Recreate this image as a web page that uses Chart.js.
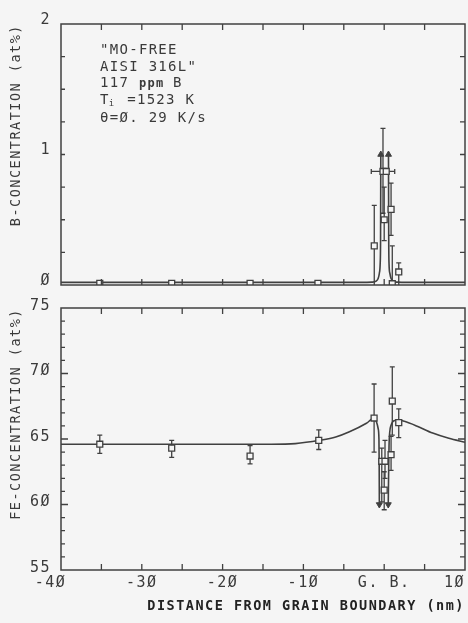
<!DOCTYPE html>
<html><head><meta charset="utf-8">
<script src="https://cdn.jsdelivr.net/npm/chart.js@4.4.0/dist/chart.umd.min.js"></script>
<style>
html,body{margin:0;padding:0;background:#f5f5f5;}
#wrap{position:relative;width:468px;height:623px;overflow:hidden;}
#c1box{position:absolute;left:0;top:0;width:468px;height:300px;}
#c2box{position:absolute;left:0;top:290px;width:468px;height:333px;}
</style></head><body>
<div id="wrap"><div id="c1box"><canvas id="c1"></canvas></div><div id="c2box"><canvas id="c2"></canvas></div></div>
<script>
// ---------- DATA ----------
// Boron (top panel) measured points
const bX    = [-35.2, -26.3, -16.6, -8.2, -1.23, -0.15, 0.25, 0.0, 0.85, 1.0, 1.8];
const bY    = [0.013, 0.013, 0.013, 0.013, 0.30, 0.87, 0.87, 0.50, 0.58, 0.01, 0.10];
const bLow  = [null, null, null, null, 0.0, 0.55, null, 0.34, 0.38, 0.0, 0.0];
const bHigh = [null, null, null, null, 0.61, 1.20, null, 0.75, 0.78, 0.30, 0.17];
const bXErr = [null, null, null, null, null, 1.45, null, null, null, null, null];
// Boron fitted profile (two branches, broken at the boundary)
const bFitLeftX  = [-40, -3, -1.5, -1.0, -0.75, -0.6, -0.5, -0.45, -0.42];
const bFitLeftY  = [0.02, 0.02, 0.022, 0.03, 0.05, 0.09, 0.16, 0.35, 1.0];
const bFitRightX = [0.53, 0.56, 0.6, 0.7, 0.85, 1.1, 1.6, 3, 10];
const bFitRightY = [1.0, 0.35, 0.16, 0.09, 0.05, 0.03, 0.022, 0.02, 0.02];

// Iron (bottom panel) measured points
const feX    = [-35.2, -26.3, -16.6, -8.1, -1.25, -0.3, 0.1, 0.0, 0.85, 1.0, 1.8];
const feY    = [64.6, 64.3, 63.7, 64.9, 66.6, 63.3, 63.3, 61.1, 63.8, 67.9, 66.25];
const feLow  = [63.9, 63.6, 63.1, 64.2, 64.0, 60.2, 62.0, 59.6, 62.6, 65.3, 65.1];
const feHigh = [65.3, 64.9, 64.5, 65.7, 69.2, 64.3, 64.9, 62.5, 65.2, 70.5, 67.3];
// Iron fitted profile
const feFitLeftX  = [-40, -14, -11, -8, -6, -4.3, -2.2, -1.25, -0.95, -0.75, -0.65, -0.62, -0.6];
const feFitLeftY  = [64.6, 64.6, 64.65, 64.9, 65.15, 65.55, 66.2, 66.6, 66.3, 65.8, 65.0, 63.0, 60.0];
const feFitRightX = [0.5, 0.55, 0.6, 0.68, 0.85, 1.2, 1.8, 2.5, 4, 6, 8, 10];
const feFitRightY = [60.0, 62.5, 64.5, 65.5, 66.05, 66.4, 66.45, 66.35, 66.0, 65.45, 65.05, 64.75];

// Axis ticks and labels
const xTickValues = [-40, -30, -20, -10, 0, 10];
const xTickLabels = ['-4Ø', '-3Ø', '-2Ø', '-1Ø', 'G. B.', '1Ø'];
const xMinorTicks = [-35, -30, -25, -20, -15, -10, -5, 0, 5];
const bTickValues = [0, 1, 2];
const bTickLabels = ['Ø', '1', '2'];
const bMinorTicks = [0.25, 0.5, 0.75, 1, 1.25, 1.5, 1.75];
const feTickValues = [55, 60, 65, 70, 75];
const feTickLabels = ['55', '6Ø', '65', '7Ø', '75'];
const feMinorTicks = [56,57,58,59,61,62,63,64,66,67,68,69,71,72,73,74];
const feMajorTicks = [60, 65, 70];

// ---------- STYLE ----------
const BG = '#f5f5f5';
const LINE = '#404040';
const TXT = '#3a3a3a';
const MONO = "'DejaVu Sans Mono', monospace";

const pts = (xs, ys) => xs.map((x, i) => ({x, y: ys[i]}));

const spacingPlugin = {
  id: 'spacing',
  beforeUpdate(c){ c.ctx.letterSpacing = '1.5px'; },
  beforeLayout(c){ c.ctx.letterSpacing = '1.5px'; },
  beforeDraw(c){ c.ctx.letterSpacing = '1.5px'; }
};

const errorBarPlugin = {
  id: 'errbars',
  beforeDatasetsDraw(chart){
    const {ctx, scales: {x, y}} = chart;
    chart.data.datasets.forEach(ds => {
      if (!ds.errLow) return;
      ctx.save();
      ctx.strokeStyle = LINE; ctx.lineWidth = 1.3;
      ds.data.forEach((p, i) => {
        const px = x.getPixelForValue(p.x), py = y.getPixelForValue(p.y);
        const lo = ds.errLow[i], hi = ds.errHigh[i];
        if (lo != null && hi != null) {
          const yl = y.getPixelForValue(lo), yh = y.getPixelForValue(hi);
          ctx.beginPath();
          ctx.moveTo(px, yl); ctx.lineTo(px, yh);
          ctx.moveTo(px - 2.5, yh); ctx.lineTo(px + 2.5, yh);
          if (yl < chart.chartArea.bottom - 1) { ctx.moveTo(px - 2.5, yl); ctx.lineTo(px + 2.5, yl); }
          ctx.stroke();
        }
        if (ds.errX && ds.errX[i] != null) {
          const xl = x.getPixelForValue(p.x - ds.errX[i]), xh = x.getPixelForValue(p.x + ds.errX[i]);
          ctx.beginPath();
          ctx.moveTo(xl, py); ctx.lineTo(xh, py);
          ctx.moveTo(xl, py - 2.5); ctx.lineTo(xl, py + 2.5);
          ctx.moveTo(xh, py - 2.5); ctx.lineTo(xh, py + 2.5);
          ctx.stroke();
        }
      });
      ctx.restore();
    });
  }
};

const frameTicksPlugin = {
  id: 'frameTicks',
  afterDraw(chart, args, opts){
    const {ctx, chartArea: a, scales: {x, y}} = chart;
    ctx.save();
    ctx.strokeStyle = LINE; ctx.lineWidth = 1.5;
    ctx.strokeRect(a.left, a.top, a.right - a.left, a.bottom - a.top);
    ctx.lineWidth = 1.3;
    ctx.beginPath();
    (opts.xTicks || []).forEach(v => {
      const px = x.getPixelForValue(v);
      ctx.moveTo(px, a.bottom); ctx.lineTo(px, a.bottom - 6);
      ctx.moveTo(px, a.top); ctx.lineTo(px, a.top + 6);
    });
    (opts.yMinor || []).forEach(v => {
      const py = y.getPixelForValue(v);
      ctx.moveTo(a.left, py); ctx.lineTo(a.left + 4, py);
      ctx.moveTo(a.right, py); ctx.lineTo(a.right - 5, py);
    });
    (opts.yMajor || []).forEach(v => {
      const py = y.getPixelForValue(v);
      ctx.moveTo(a.left, py); ctx.lineTo(a.left + 7, py);
      ctx.moveTo(a.right, py); ctx.lineTo(a.right - 7, py);
    });
    ctx.stroke();
    ctx.restore();
  }
};

const annotationPlugin = {
  id: 'annot',
  afterDraw(chart){
    const {ctx, chartArea: a} = chart;
    const x0 = a.left + 39;
    ctx.save();
    ctx.fillStyle = TXT;
    ctx.textBaseline = 'middle';
    ctx.letterSpacing = '1.3px';
    const f = (w, s) => `${w} ${s}px ${MONO}`;
    ctx.font = f('normal', 14);
    ctx.fillText('"MO-FREE', x0, a.top + 26);
    ctx.fillText('AISI 316L"', x0, a.top + 43);
    let xx = x0;
    ctx.fillText('117 ', xx, a.top + 59); xx += ctx.measureText('117 ').width;
    ctx.font = f('bold', 12); ctx.fillText('ppm', xx, a.top + 60); xx += ctx.measureText('ppm ').width;
    ctx.font = f('normal', 14); ctx.fillText('B', xx, a.top + 59);
    xx = x0;
    ctx.fillText('T', xx, a.top + 76); xx += ctx.measureText('T').width - 1;
    ctx.font = f('normal', 9); ctx.fillText('i', xx, a.top + 80); xx += ctx.measureText('i').width + 2;
    ctx.font = f('normal', 14); ctx.fillText(' =1523 K', xx, a.top + 76);
    ctx.fillText('θ=Ø. 29 K/s', x0, a.top + 94);
    ctx.restore();
  }
};

function pointDataset(xs, ys, lo, hi, xe){
  return {
    data: pts(xs, ys), errLow: lo, errHigh: hi, errX: xe,
    showLine: false, pointStyle: 'rect', pointRadius: 4.2,
    borderColor: LINE, backgroundColor: BG, borderWidth: 1.3, order: 0
  };
}
function curveDataset(xs, ys, arrowIndex, rot){
  return {
    data: pts(xs, ys), showLine: true, borderColor: LINE, borderWidth: 1.6,
    cubicInterpolationMode: 'monotone', fill: false,
    pointStyle: 'triangle',
    pointRadius: xs.map((_, i) => i === arrowIndex ? 3.5 : 0),
    pointRotation: xs.map(() => rot),
    pointBackgroundColor: LINE, pointBorderColor: LINE, pointBorderWidth: 1,
    order: 1
  };
}

const yTitle = (text) => ({
  display: true, text, align: 'end', color: TXT,
  font: {family: MONO, size: 13.5}, padding: {top: 8, bottom: 0}
});
const fitY = (s) => { s.width = 61; s.paddingTop = 0; s.paddingBottom = 0; };
const noGrid = {display: false, drawTicks: false};

// ---------- TOP CHART (B) ----------
new Chart(document.getElementById('c1'), {
  type: 'scatter',
  data: { datasets: [
    pointDataset(bX, bY, bLow, bHigh, bXErr),
    curveDataset(bFitLeftX, bFitLeftY, bFitLeftX.length - 1, 0),
    curveDataset(bFitRightX, bFitRightY, 0, 0)
  ]},
  options: {
    responsive: true, maintainAspectRatio: false, animation: false,
    layout: {autoPadding: false, padding: {left: 0, right: 3, top: 24, bottom: 15}},
    plugins: {legend: {display: false}, tooltip: {enabled: false},
      frameTicks: {xTicks: xMinorTicks, yMinor: bMinorTicks, yMajor: []}},
    scales: {
      x: {type: 'linear', display: false, min: -40, max: 10},
      y: {type: 'linear', min: 0, max: 2,
        grid: noGrid, border: {display: false},
        afterFit: fitY,
        afterBuildTicks(s){ s.ticks = bTickValues.map(v => ({value: v})); },
        ticks: {padding: 10, labelOffset: -4, color: TXT, font: {family: MONO, size: 15},
          callback: (v) => { const i = bTickValues.indexOf(v); return i >= 0 ? bTickLabels[i] : ''; }},
        title: yTitle('B-CONCENTRATION (at%)')
      }
    }
  },
  plugins: [spacingPlugin, errorBarPlugin, frameTicksPlugin, annotationPlugin]
});

// ---------- BOTTOM CHART (Fe) ----------
new Chart(document.getElementById('c2'), {
  type: 'scatter',
  data: { datasets: [
    pointDataset(feX, feY, feLow, feHigh, null),
    curveDataset(feFitLeftX, feFitLeftY, feFitLeftX.length - 1, 180),
    curveDataset(feFitRightX, feFitRightY, 0, 180)
  ]},
  options: {
    responsive: true, maintainAspectRatio: false, animation: false,
    layout: {autoPadding: false, padding: {left: 0, right: 3, top: 18, bottom: 0}},
    plugins: {legend: {display: false}, tooltip: {enabled: false},
      frameTicks: {xTicks: xMinorTicks, yMinor: feMinorTicks, yMajor: feMajorTicks}},
    scales: {
      x: {type: 'linear', min: -40, max: 10,
        grid: noGrid, border: {display: false},
        afterFit(s){ s.height = 53; s.paddingLeft = 0; s.paddingRight = 0; },
        afterBuildTicks(s){ s.ticks = xTickValues.map(v => ({value: v})); },
        ticks: {padding: 4, maxRotation: 0, autoSkip: false, color: TXT, font: {family: MONO, size: 15},
          callback: (v) => {
            const i = xTickValues.indexOf(v);
            if (i < 0) return '';
            // end labels sit inside the frame edges as in the original plot
            if (i === 0) return xTickLabels[i] + '  ';
            if (i === xTickValues.length - 1) return xTickLabels[i] + '  ';
            return xTickLabels[i];
          }},
        title: {display: true, text: 'DISTANCE FROM GRAIN BOUNDARY (nm)', align: 'end', color: '#222',
          font: {family: MONO, size: 13.5, weight: 'bold'}, padding: {top: 0, bottom: 8}}
      },
      y: {type: 'linear', min: 55, max: 75,
        grid: noGrid, border: {display: false},
        afterFit: fitY,
        afterBuildTicks(s){ s.ticks = feTickValues.map(v => ({value: v})); },
        ticks: {padding: 10, labelOffset: -2, color: TXT, font: {family: MONO, size: 15},
          callback: (v) => { const i = feTickValues.indexOf(v); return i >= 0 ? feTickLabels[i] : ''; }},
        title: yTitle('FE-CONCENTRATION (at%)')
      }
    }
  },
  plugins: [spacingPlugin, errorBarPlugin, frameTicksPlugin]
});
</script>
</body></html>
